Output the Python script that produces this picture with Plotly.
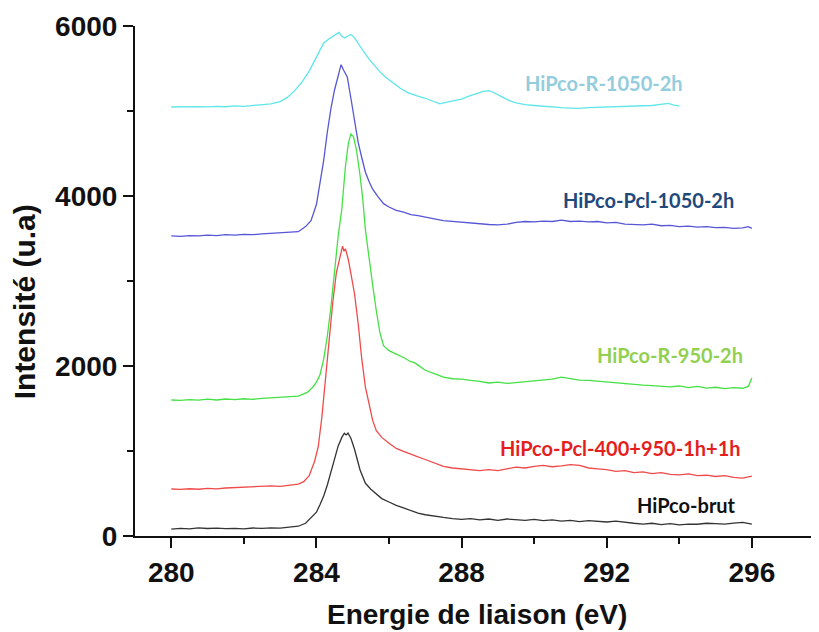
import plotly.graph_objects as go

# ---------------- data ----------------
brut_E = [280, 280.25, 280.5, 280.75, 281, 281.25, 281.5, 281.75, 282, 282.25, 282.5, 282.75, 283, 283.25,
          283.5, 283.7, 283.85, 284.0, 284.1, 284.2, 284.3, 284.4, 284.5, 284.6, 284.7, 284.77, 284.82, 284.87,
          284.95, 285.05, 285.2, 285.35, 285.5, 285.65, 285.8, 286.0, 286.2, 286.4, 286.6, 286.8, 287.0, 287.25,
          287.5, 287.75, 288, 288.25, 288.5, 288.75, 289, 289.25, 289.5, 289.75, 290, 290.25, 290.5, 290.75,
          291, 291.25, 291.5, 291.75, 292, 292.25, 292.5, 292.75, 293, 293.25, 293.5, 293.75, 294, 294.25,
          294.5, 294.75, 295, 295.25, 295.5, 295.75, 296]
brut_I = [82, 90, 84, 95, 88, 92, 86, 90, 85, 94, 89, 96, 92, 100,
          115, 150, 210, 280, 370, 470, 600, 760, 920, 1060, 1160, 1210, 1190, 1212,
          1150, 1020, 780, 620, 550, 500, 440, 400, 360, 330, 295, 268, 250, 232,
          218, 205, 195, 205, 190, 200, 185, 200, 192, 185, 195, 180, 190, 175,
          185, 170, 180, 172, 165, 175, 160, 150, 140, 150, 135, 145, 130, 140,
          138, 150, 145, 140, 152, 160, 140]

pcl400_E = [280, 280.25, 280.5, 280.75, 281, 281.25, 281.5, 281.75, 282, 282.25, 282.5, 282.75, 283, 283.25,
            283.5, 283.65, 283.8, 283.95, 284.05, 284.15, 284.25, 284.35, 284.45, 284.55, 284.65, 284.72,
            284.76, 284.8, 284.88, 284.95, 285.05, 285.15, 285.25, 285.35, 285.45, 285.55, 285.65, 285.8,
            286.0, 286.2, 286.4, 286.6, 286.8, 287.0, 287.25, 287.5, 287.75, 288, 288.25, 288.5, 288.75,
            289, 289.25, 289.5, 289.75, 290, 290.25, 290.5, 290.75, 291, 291.25, 291.5, 291.75, 292, 292.25,
            292.5, 292.75, 293, 293.25, 293.5, 293.75, 294, 294.25, 294.5, 294.75, 295, 295.25, 295.5,
            295.75, 296]
pcl400_I = [553, 548, 556, 550, 560, 555, 565, 570, 575, 580, 578, 590, 585, 600,
            610, 640, 710, 880, 1050, 1400, 1850, 2300, 2750, 3100, 3300, 3410,
            3350, 3380, 3250, 3100, 2850, 2500, 2080, 1750, 1540, 1360, 1240, 1160,
            1090, 1030, 995, 960, 930, 900, 860, 820, 800, 790, 785, 770, 780,
            770, 790, 810, 800, 820, 830, 815, 825, 840, 830, 800, 790, 780, 760,
            770, 745, 755, 735, 745, 725, 720, 730, 710, 715, 700, 710, 690,
            680, 705]

r950_E = [280, 280.25, 280.5, 280.75, 281, 281.25, 281.5, 281.75, 282, 282.25, 282.5, 282.75, 283, 283.25,
          283.5, 283.75, 283.9, 284.0, 284.1, 284.2, 284.3, 284.4, 284.5, 284.6, 284.7, 284.8, 284.88,
          284.95, 285.02, 285.1, 285.2, 285.28, 285.35, 285.45, 285.55, 285.65, 285.75, 285.85, 286.0,
          286.2, 286.4, 286.6, 286.7, 286.8, 287.0, 287.25, 287.5, 287.75, 288, 288.25, 288.5, 288.75,
          289, 289.25, 289.5, 289.75, 290, 290.25, 290.5, 290.75, 291, 291.25, 291.5, 291.75, 292, 292.25,
          292.5, 292.75, 293, 293.25, 293.5, 293.75, 294, 294.25, 294.5, 294.75, 295, 295.25, 295.5,
          295.75, 295.9, 296]
r950_I = [1600, 1595, 1605, 1598, 1610, 1600, 1612, 1605, 1615, 1608, 1620, 1625, 1630, 1635,
          1645, 1690, 1750, 1810, 1900, 2080, 2350, 2700, 3130, 3530, 3850, 4350, 4620,
          4730, 4700, 4550, 4250, 3950, 3600, 3250, 2950, 2650, 2390, 2240, 2180,
          2140, 2100, 2050, 2040, 2010, 1950, 1910, 1870, 1850, 1845, 1830, 1820, 1800,
          1810, 1795, 1805, 1820, 1830, 1840, 1845, 1870, 1850, 1835, 1830, 1820, 1815, 1805,
          1790, 1785, 1775, 1770, 1762, 1755, 1765, 1745, 1760, 1740, 1750, 1735, 1745,
          1738, 1760, 1860]

pcl1050_E = [280, 280.25, 280.5, 280.75, 281, 281.25, 281.5, 281.75, 282, 282.25, 282.5, 282.75, 283, 283.25,
             283.5, 283.7, 283.85, 284.0, 284.1, 284.2, 284.3, 284.4, 284.5, 284.6, 284.68, 284.75, 284.85,
             284.95, 285.05, 285.15, 285.25, 285.35, 285.45, 285.55, 285.7, 285.85, 286.0, 286.2, 286.4,
             286.6, 286.8, 287.0, 287.25, 287.5, 287.75, 288, 288.25, 288.5, 288.75, 289, 289.25, 289.5,
             289.75, 290, 290.25, 290.5, 290.75, 291, 291.25, 291.5, 291.75, 292, 292.25, 292.5, 292.75,
             293, 293.25, 293.5, 293.75, 294, 294.25, 294.5, 294.75, 295, 295.25, 295.5, 295.75, 295.9, 296]
pcl1050_I = [3530, 3525, 3535, 3530, 3540, 3535, 3545, 3540, 3548, 3545, 3555, 3560, 3565, 3570,
             3580, 3640, 3710, 3900, 4150, 4420, 4750, 5030, 5250, 5430, 5545, 5480, 5400,
             5150, 4870, 4630, 4450, 4280, 4170, 4080, 3990, 3910, 3870, 3830, 3810,
             3780, 3770, 3750, 3730, 3710, 3700, 3690, 3680, 3670, 3665, 3660, 3668, 3690,
             3700, 3695, 3705, 3700, 3715, 3700, 3705, 3695, 3700, 3685, 3690, 3670, 3665,
             3660, 3668, 3650, 3655, 3640, 3645, 3635, 3640, 3628, 3632, 3620, 3625, 3640, 3620]

r1050_E = [280, 280.25, 280.5, 280.75, 281, 281.25, 281.5, 281.75, 282, 282.25, 282.5, 282.75, 283, 283.2,
           283.4, 283.6, 283.8, 284.0, 284.2, 284.35, 284.45, 284.55, 284.62, 284.7, 284.78, 284.85, 284.95,
           285.05, 285.15, 285.3, 285.45, 285.6, 285.75, 285.9, 286.1, 286.3, 286.5, 286.75, 287.0, 287.25,
           287.4, 287.6, 287.8, 288.0, 288.2, 288.4, 288.6, 288.75, 288.9, 289.1, 289.3, 289.5, 289.75,
           290, 290.25, 290.5, 290.75, 291, 291.25, 291.5, 291.75, 292, 292.25, 292.5, 292.75, 293, 293.25,
           293.5, 293.7, 293.85, 294]
r1050_I = [5047, 5050, 5045, 5052, 5048, 5055, 5050, 5060, 5055, 5065, 5070, 5085, 5110, 5160,
           5240, 5340, 5470, 5640, 5800, 5850, 5880, 5900, 5925, 5880, 5860, 5880, 5900,
           5860, 5790, 5700, 5610, 5530, 5460, 5400, 5330, 5270, 5220, 5180, 5150, 5110,
           5085, 5105, 5120, 5140, 5175, 5205, 5230, 5240, 5215, 5170, 5125, 5095, 5075,
           5065, 5055, 5045, 5040, 5035, 5030, 5040, 5045, 5050, 5055, 5060, 5058, 5062, 5065,
           5075, 5090, 5070, 5060]

series_names = ["HiPco-brut", "HiPco-Pcl-400+950-1h+1h", "HiPco-R-950-2h", "HiPco-Pcl-1050-2h", "HiPco-R-1050-2h"]
series_E = [brut_E, pcl400_E, r950_E, pcl1050_E, r1050_E]
series_I = [brut_I, pcl400_I, r950_I, pcl1050_I, r1050_I]
line_colors = ["#333333", "#F04A4A", "#44E044", "#5656D6", "#5EE6EA"]
label_colors = ["#111111", "#E41E1E", "#92D050", "#1F497D", "#93CDDD"]
# label centre positions (data coordinates)
label_x = [294.21, 292.38, 293.73, 293.15, 291.92]
label_y = [365, 1035, 2129, 3953, 5329]

x_ticks = [280, 284, 288, 292, 296]
y_ticks = [0, 2000, 4000, 6000]

# ---------------- figure ----------------
fig = go.Figure()
for E, I, c, n in zip(series_E, series_I, line_colors, series_names):
    fig.add_trace(go.Scatter(x=E, y=I, mode="lines", name=n,
                             line=dict(color=c, width=1.3), showlegend=False))

for n, lx, ly, c in zip(series_names, label_x, label_y, label_colors):
    fig.add_annotation(x=lx, y=ly, text=n, showarrow=False, xanchor="center", yanchor="middle",
                       font=dict(family="Lato, Open Sans, sans-serif", size=20, color=c, weight="bold"))

axis_font = dict(family="Liberation Sans, Arial, sans-serif", size=28, color="#111111", weight="bold")

fig.add_annotation(xref="paper", yref="paper", x=0.5, y=-0.153, text="Energie de liaison (eV)",
                   showarrow=False, xanchor="center", yanchor="middle",
                   font=dict(family="Liberation Sans, Arial, sans-serif", size=28, color="#111111", weight="bold"))
fig.add_annotation(xref="paper", yref="paper", x=-0.161, y=0.46, text="Intensité (u.a)",
                   showarrow=False, xanchor="center", yanchor="middle", textangle=-90,
                   font=dict(family="Liberation Sans, Arial, sans-serif", size=30, color="#111111", weight="bold"))

# the page has an 8px body margin, so the figure is sized to fit the 819x632 window
fig.update_layout(
    width=811, height=624,
    margin=dict(l=127, r=0, t=18, b=96),
    paper_bgcolor="white", plot_bgcolor="white",
    xaxis=dict(range=[279, 297.85], tickvals=x_ticks, ticks="outside", ticklen=10, tickwidth=2,
               tickcolor="#111111", showline=True, linecolor="#111111", linewidth=2,
               showgrid=False, zeroline=False, tickfont=axis_font,
               minor=dict(dtick=2, tick0=280, ticks="outside", ticklen=6, tickwidth=2, tickcolor="#111111")),
    yaxis=dict(range=[0, 6000], tickvals=y_ticks, ticks="outside", ticklen=10, tickwidth=2,
               tickcolor="#111111", showline=True, linecolor="#111111", linewidth=2,
               showgrid=False, zeroline=False, tickfont=axis_font,
               minor=dict(dtick=1000, tick0=0, ticks="outside", ticklen=6, tickwidth=2, tickcolor="#111111")),
)

fig.write_html("out.html")
